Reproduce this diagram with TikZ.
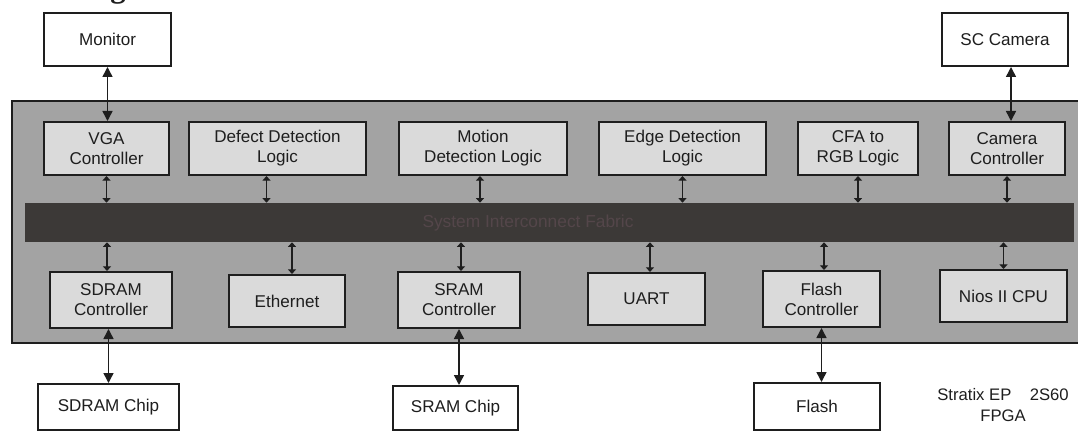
\documentclass[tikz,border=0pt]{standalone}
\usepackage{fontspec}
\setmainfont{Liberation Sans}
\newfontfamily\titleserif{Liberation Serif}
\usetikzlibrary{arrows.meta}
\definecolor{fpgagray}{RGB}{163,163,163}
\definecolor{blkgray}{RGB}{218,218,218}
\definecolor{busgray}{RGB}{60,57,55}
\definecolor{bustext}{RGB}{84,70,74}
\definecolor{ink}{RGB}{30,30,30}
\newcommand\mybox[7]{\node[#6, minimum width={(#4-#2)*0.75pt}, minimum height={(#5-#3)*0.75pt}] (#1) at ({(#2+#4)/2},{(#3+#5)/2}) {#7};}
\begin{document}
\begin{tikzpicture}[x=0.75pt,y=-0.75pt,
  lbl/.style={font=\fontsize{12.8}{15}\selectfont, align=center, inner sep=0pt, text=ink},
  inbox/.style={lbl, draw=ink, line width=1.5pt, fill=blkgray},
  extbox/.style={lbl, draw=ink, line width=1.5pt, fill=white},
  fpgabox/.style={draw=ink, line width=2.2pt, fill=fpgagray, inner sep=0pt},
  busbox/.style={draw=none, fill=busgray, inner sep=0pt},
  ia/.style={draw=ink, line width=0.9pt, {Triangle[width=6pt,length=3.5pt]}-{Triangle[width=6pt,length=3.5pt]}},
  ea/.style={draw=ink, line width=1.1pt, {Triangle[width=7.5pt,length=7.5pt]}-{Triangle[width=7.5pt,length=7.5pt]}},
]
\useasboundingbox (0,0) rectangle (1078,431);
\clip (0,0) rectangle (1078,431);
\fill[white] (0,0) rectangle (1078,431);
\node[anchor=base west, inner sep=0pt, font=\titleserif\bfseries\fontsize{23}{26}\selectfont, text=ink] (title) at (-15,-2) {Status Register.};

% FPGA outline and bus
\mybox{fpga}{12}{101}{1100}{343}{fpgabox}{}
\mybox{bus}{25}{203}{1074}{242}{busbox}{}
\node[font=\fontsize{13}{15}\selectfont, text=bustext, inner sep=0pt] (bustxt) at (528,223) {System Interconnect Fabric};

% top row
\mybox{vga}{44}{122}{169}{175}{inbox}{VGA\\Controller}
\mybox{defect}{189}{122}{366}{175}{inbox}{Defect Detection\\Logic}
\mybox{motion}{399}{122}{567}{175}{inbox}{Motion\\Detection Logic}
\mybox{edge}{599}{122}{766}{175}{inbox}{Edge Detection\\Logic}
\mybox{cfa}{798}{122}{918}{175}{inbox}{CFA to\\RGB Logic}
\mybox{camctl}{949}{122}{1065}{175}{inbox}{Camera\\Controller}

% bottom row
\mybox{sdramc}{50}{272}{172}{328}{inbox}{SDRAM\\Controller}
\mybox{eth}{229}{275}{345}{327}{inbox}{Ethernet}
\mybox{sramc}{398}{272}{520}{328}{inbox}{SRAM\\Controller}
\mybox{uart}{588}{273}{705}{325}{inbox}{UART}
\mybox{flashc}{763}{271}{880}{327}{inbox}{Flash\\Controller}
\mybox{nios}{940}{270}{1067}{322}{inbox}{Nios II CPU}

% external devices
\mybox{monitor}{44}{13}{171}{66}{extbox}{Monitor}
\mybox{sccam}{942}{13}{1068}{66}{extbox}{SC Camera}
\mybox{sdramchip}{38}{384}{179}{429.5}{extbox}{SDRAM Chip}
\mybox{sramchip}{393}{386}{518}{429.5}{extbox}{SRAM Chip}
\mybox{flash}{754}{383}{880}{429.5}{extbox}{Flash}

\node[lbl, font=\fontsize{12.5}{15.75}\selectfont] (stratix) at (1003,405) {Stratix EP\hspace{1.1em}2S60\\FPGA};

% external arrows
\draw[ea] (monitor.south) -- (monitor.south |- vga.north);
\coordinate (cs) at ([xshift=4.5pt]sccam.south);
\draw[ea] (cs) -- (cs |- camctl.north);
\draw[ea] (sdramc.south -| sdramchip.north) -- (sdramchip.north);
\draw[ea] (sramc.south) -- (sramc.south |- sramchip.north);
\draw[ea] (flashc.south) -- (flashc.south |- flash.north);

% bus arrows, top row
\coordinate (t1) at (vga.south);
\coordinate (t2) at ([xshift=-8.25pt]defect.south);
\coordinate (t3) at ([xshift=-2.25pt]motion.south);
\coordinate (t4) at (edge.south);
\coordinate (t5) at (cfa.south);
\coordinate (t6) at (camctl.south);
\foreach \c in {t1,t2,t3,t4,t5,t6}{\draw[ia] (\c) -- (\c |- bus.north);}

% bus arrows, bottom row
\coordinate (b1) at ([xshift=-3pt]sdramc.north);
\coordinate (b2) at ([xshift=3.75pt]eth.north);
\coordinate (b3) at ([xshift=1.5pt]sramc.north);
\coordinate (b4) at ([xshift=2.6pt]uart.north);
\coordinate (b5) at ([xshift=1.9pt]flashc.north);
\coordinate (b6) at (nios.north);
\foreach \c in {b1,b2,b3,b4,b5,b6}{\draw[ia] (\c |- bus.south) -- (\c);}
\end{tikzpicture}
\end{document}
